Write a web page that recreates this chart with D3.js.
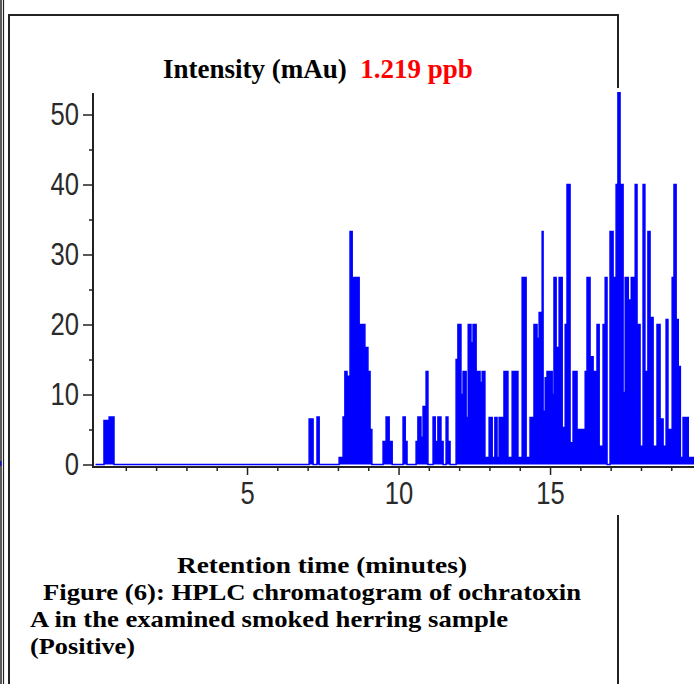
<!DOCTYPE html>
<html lang="en">
  <head>
    <meta charset="UTF-8" />
    <title>HPLC chromatogram of ochratoxin A</title>
    <script src="https://d3js.org/d3.v7.min.js"></script>
    <style>
      body { margin: 0; background: #fff; }
      .tick text { font-family: "Liberation Sans", Arial, sans-serif; fill: #2a2a2a; }
      .cap { font-family: "Liberation Serif", "Times New Roman", serif; font-weight: bold; white-space: pre; }
    </style>
  </head>
  <body>
    <div id="chart"></div>
    <script>
      // retention time (min) where each step starts, and the intensity (mAu) it holds
      var times = [0, 0.28, 0.45, 0.61, 7.05, 7.18, 7.31, 7.38, 8.04, 8.17, 8.23, 8.30, 8.40, 8.47, 8.70, 8.80, 8.83, 8.89, 8.99, 9.06, 9.12,
        9.49, 9.59, 9.69, 9.79, 10.15, 10.22, 10.28, 10.58, 10.64, 10.74, 10.81, 10.91, 10.97, 11.14, 11.21, 11.30, 11.40, 11.47, 11.57, 11.63, 11.70,
        11.90, 11.96, 12.06, 12.13, 12.23, 12.30, 12.39, 12.46, 12.56, 12.69, 12.76, 12.85, 12.99, 13.09, 13.18, 13.25, 13.32, 13.48, 13.61, 13.75, 13.94,
        14.08, 14.21, 14.34, 14.47, 14.57, 14.64, 14.74, 14.77, 14.84, 14.90, 15.07, 15.13, 15.20, 15.30, 15.40, 15.50, 15.56, 15.66, 15.76, 15.89,
        16.16, 16.22, 16.32, 16.42, 16.55, 16.62, 16.75, 16.82, 16.88, 16.98, 17.08, 17.18, 17.24, 17.31, 17.41, 17.48, 17.58, 17.68, 17.77, 17.81,
        17.87, 17.97, 18.07, 18.13, 18.23, 18.30, 18.40, 18.53, 18.63, 18.73, 18.83, 18.89, 19.03, 19.09, 19.16, 19.23, 19.30, 19.39, 19.56, 19.76];
      var intensity = [0, 6.3, 6.8, 0, 6.5, 0, 6.8, 0, 1, 6.8, 13.3, 12.6, 33.3, 26.7, 20, 8.3, 20, 16.7, 13.3, 5, 0,
        3.3, 6.8, 3.3, 0, 6.8, 3.3, 0, 3.3, 6.8, 3.9, 8.3, 13.3, 0, 6.8, 3.3, 6.8, 3.3, 0, 6.8, 3.3, 0,
        15, 20, 10, 13.3, 6.7, 20, 17.4, 20, 13.3, 11.7, 13.3, 1, 6.7, 1, 6.7, 1, 6.7, 13.3, 1, 13.3, 1,
        26.7, 1, 6.7, 20, 18, 21.7, 33.3, 7.6, 12.4, 13.3, 10, 26.7, 16.7, 26.7, 5.3, 20, 40, 3.1, 13.3, 5,
        13.3, 26.7, 15.4, 13.3, 20, 2.6, 20, 26.7, 0, 33.3, 26.7, 40, 53.1, 40, 10.3, 26.7, 23.5, 26.7, 6.7, 40,
        20, 2.6, 40, 13.3, 33.3, 21, 2.6, 20, 6.5, 2.6, 20.7, 5, 26.7, 40, 20.7, 14, 1, 6.7, 1, 1];

      var yTicks = [0, 10, 20, 30, 40, 50];
      var yMinor = [5, 15, 25, 35, 45];
      var xTicks = [5, 10, 15];
      var xMinor = [1, 2, 3, 4, 6, 7, 8, 9, 11, 12, 13, 14, 16, 17, 18, 19];

      var data = times.map(function (t, i) {
        return { t: t, v: intensity[i] };
      });

      var svg = d3.select("#chart").append("svg").attr("width", 694).attr("height", 684);

      var x = d3.scaleLinear().domain([0, 19.76]).range([95.5, 694.3]);
      var y = d3.scaleLinear().domain([0, 50]).range([464.5, 114.5]);

      // frame
      var frame = svg.append("g").attr("fill", "none").attr("stroke", "#222");
      frame.append("line").attr("x1", 1).attr("x2", 1).attr("y1", 0).attr("y2", 684).attr("stroke-width", 1.5);
      frame.append("line").attr("x1", 3.5).attr("x2", 3.5).attr("y1", 0).attr("y2", 684).attr("stroke-width", 1.2);
      frame.append("path").attr("d", "M9,684V15H618V88").attr("stroke-width", 2);
      frame.append("line").attr("x1", 618).attr("x2", 618).attr("y1", 515).attr("y2", 684).attr("stroke-width", 2);
      svg.append("line").attr("x1", 0).attr("x2", 0).attr("y1", 461).attr("y2", 466)
        .attr("stroke", "#1010c0").attr("stroke-width", 3);

      // trace
      svg.append("path")
        .datum(data)
        .attr("fill", "#0000ff")
        .attr("d", d3.area().curve(d3.curveStepAfter)
          .x(function (d) { return x(d.t); })
          .y0(y(0))
          .y1(function (d) { return y(d.v); }));
      svg.append("path")
        .datum(data)
        .attr("fill", "none")
        .attr("stroke", "#0000ff")
        .attr("stroke-width", 1.5)
        .attr("d", d3.line().curve(d3.curveStepAfter)
          .x(function (d) { return x(d.t); })
          .y(function (d) { return y(d.v); }));

      // axes
      var yAxis = svg.append("g").attr("transform", "translate(93,0)")
        .call(d3.axisLeft(y).tickValues(yTicks).tickSize(10).tickPadding(4).tickSizeOuter(0));
      svg.append("g").attr("transform", "translate(93,0)")
        .call(d3.axisLeft(y).tickValues(yMinor).tickSize(4).tickFormat("").tickSizeOuter(0));
      yAxis.select(".domain").remove();
      svg.append("line").attr("x1", 93).attr("x2", 93).attr("y1", 93).attr("y2", 468)
        .attr("stroke", "#222").attr("stroke-width", 2);

      var xAxis = svg.append("g").attr("transform", "translate(0,467)")
        .call(d3.axisBottom(x).tickValues(xTicks).tickSize(8).tickPadding(6).tickSizeOuter(0));
      svg.append("g").attr("transform", "translate(0,467)")
        .call(d3.axisBottom(x).tickValues(xMinor).tickSize(4).tickFormat("").tickSizeOuter(0));
      xAxis.select(".domain").remove();
      svg.append("line").attr("x1", 93).attr("x2", 694).attr("y1", 467).attr("y2", 467)
        .attr("stroke", "#222").attr("stroke-width", 2);

      svg.selectAll(".tick line").attr("stroke", "#222").attr("stroke-width", 1.5);
      // narrow, tall digits like the original
      yAxis.selectAll(".tick text").style("font-size", "32px")
        .attr("x", -14 / 0.8).attr("transform", "scale(0.8,1)");
      xAxis.selectAll(".tick text").style("font-size", "32px").attr("transform", "scale(0.8,1)");

      // captions
      var title = svg.append("text").attr("class", "cap").attr("x", 163).attr("y", 78).style("font-size", "27px");
      title.append("tspan").attr("fill", "#000").text("Intensity (mAu)  ");
      title.append("tspan").attr("fill", "#ff0000").text("1.219 ppb");

      // x-axis title and figure caption, tightly stacked as in the source document
      var lines = ["Retention time (minutes)", "Figure (6): HPLC chromatogram of ochratoxin",
        "A in the examined smoked herring sample", "(Positive)"];
      var lineX = [177, 43, 30, 30];
      var lineY = [573, 600, 627, 654];
      var lineW = [290, 538, 478, 105];
      lines.forEach(function (s, i) {
        svg.append("text").attr("class", "cap")
          .attr("x", lineX[i]).attr("y", lineY[i])
          .attr("textLength", lineW[i]).attr("lengthAdjust", "spacingAndGlyphs")
          .style("font-size", "23.5px")
          .text(s);
      });
    </script>
  </body>
</html>
